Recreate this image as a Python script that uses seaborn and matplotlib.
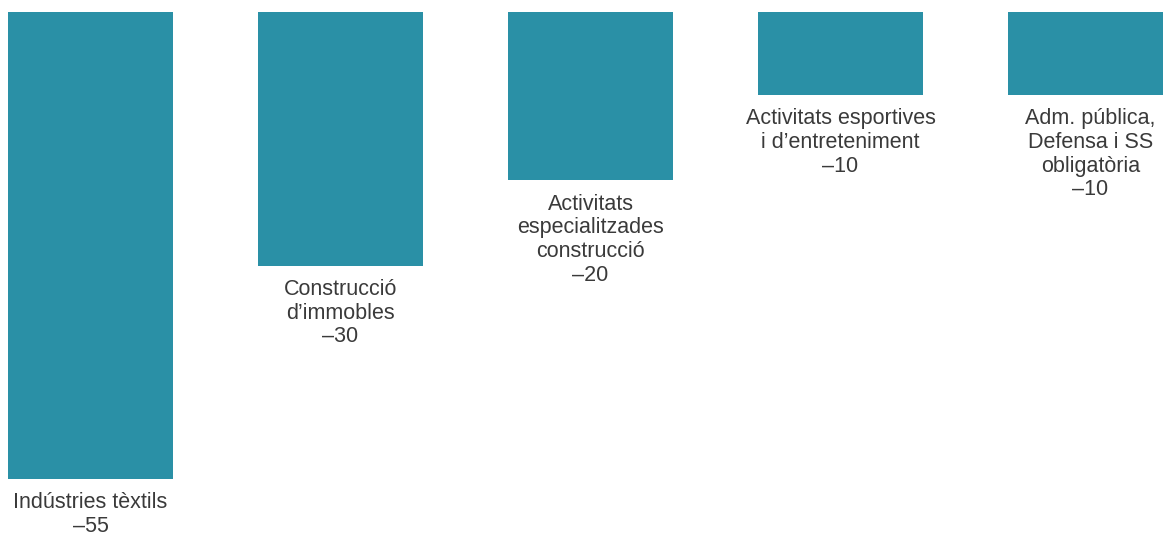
import matplotlib

matplotlib.use("Agg")
import matplotlib.pyplot as plt
import pandas as pd
import seaborn as sns

SECTORS = [
    "Indústries tèxtils",
    "Construcció\nd’immobles",
    "Activitats\nespecialitzades\nconstrucció",
    "Activitats esportives\ni d’entreteniment",
    "Adm. pública,\nDefensa i SS\nobligatòria",
]
CHANGE = [-55, -30, -20, -10, -10]

BAR_COLOR = "#2a90a6"
TEXT_COLOR = "#3a3a3a"

sns.set_theme(style="white")
plt.rcParams["font.family"] = ["Liberation Sans", "DejaVu Sans"]

df = pd.DataFrame({"sector": SECTORS, "change": CHANGE})

fig = plt.figure(figsize=(11.63, 5.34), dpi=100)
# axes top sits 12 px below the figure edge; bars are clipped there
ax = fig.add_axes([0, 0, 1, 522 / 534])
sns.barplot(data=df, x="sector", y="change", color=BAR_COLOR, saturation=1,
            width=0.66, linewidth=0, ax=ax)

for i, (name, val) in enumerate(zip(SECTORS, CHANGE)):
    ax.annotate(f"{name}\n–{abs(val)}", xy=(i, val), xytext=(0, -9.5),
                textcoords="offset points", ha="center", va="top",
                fontsize=15.5, color=TEXT_COLOR, linespacing=1.17,
                annotation_clip=False)

ax.set_xlim(-0.362, 4.29)
ax.set_ylim(-61.45, -0.273)
ax.axis("off")

fig.savefig("out.png", dpi=100)
